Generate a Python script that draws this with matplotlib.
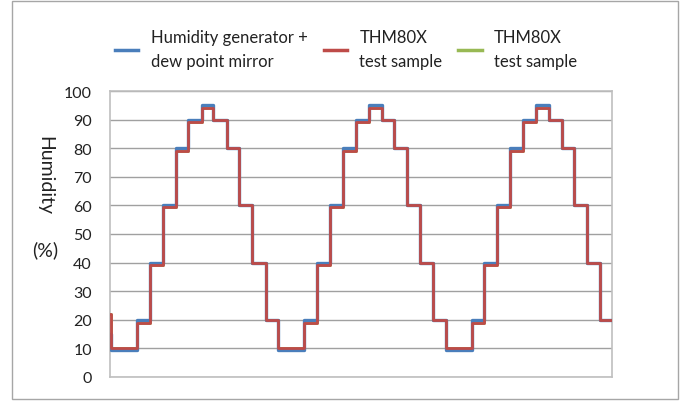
import matplotlib.pyplot as plt
from matplotlib.lines import Line2D
from matplotlib.patches import Rectangle

plt.rcParams['font.family'] = ['Lato', 'DejaVu Sans']

# Step change times (hours) and humidity levels
step_times = [0.0, 0.05, 2.15, 3.16, 4.2, 5.18, 6.17, 7.23, 8.15, 9.2, 10.2, 11.18,
              12.29, 13.28, 15.33, 16.36, 17.36, 18.37, 19.39, 20.44, 21.44, 22.41,
              23.46, 24.47, 25.47, 26.52, 28.55, 29.54, 30.57, 31.57, 32.57, 33.62,
              34.65, 35.65, 36.62, 37.67, 38.67, 39.62]
reference_rh = [15, 9.5, 20, 40, 60, 80, 90, 95, 90, 80, 60, 40, 20, 9.5,
                20, 40, 60, 80, 90, 95, 90, 80, 60, 40, 20, 9.5,
                20, 40, 60, 80, 90, 95, 90, 80, 60, 40, 20, 20]
sample1_rh = [22, 10, 19, 39, 59.5, 79, 89, 94, 90, 80, 60, 40, 20, 10,
              19, 39, 59.5, 79, 89, 94, 90, 80, 60, 40, 20, 10,
              19, 39, 59.5, 79, 89, 94, 90, 80, 60, 40, 20, 20]
sample2_rh = [22, 10, 19, 39, 59.5, 79, 89, 94, 90, 80, 60, 40, 20, 10,
              19, 39, 59.5, 79, 89, 94, 90, 80, 60, 40, 20, 10,
              19, 39, 59.5, 79, 89, 94, 90, 80, 60, 40, 20, 20]

labels = ['Humidity generator +\ndew point mirror', 'THM80X\ntest sample', 'THM80X\ntest sample']
colors = ['#4a7ebb', '#be4b48', '#98b954']

fig = plt.figure(figsize=(6.85, 4.10), dpi=100)
ax = fig.add_axes([110 / 685, 1 - 378 / 410, 502 / 685, 286 / 410])

ax.step(step_times, sample2_rh, where='post', color=colors[2], lw=2.0, zorder=2)
ax.step(step_times, reference_rh, where='post', color=colors[0], lw=2.4, zorder=3)
ax.step(step_times, sample1_rh, where='post', color=colors[1], lw=2.0, zorder=4)

ax.set_xlim(0, step_times[-1])
ax.set_ylim(0, 100)
ax.set_yticks(range(0, 101, 10))
ax.set_xticks([])
ax.tick_params(axis='y', length=0, pad=13, labelsize=11.5, labelcolor='#222222')
ax.grid(axis='y', color='#a0a0a0', lw=1)
ax.set_axisbelow(True)
for s in ax.spines.values():
    s.set_color('#bfbfbf')
    s.set_linewidth(1.2)

# y label: rotated word with upright unit below
fig.text(45 / 685, 1 - 176 / 410, 'Humidity', rotation=270, ha='center', va='center',
         fontsize=14, color='#222222')
fig.text(45 / 685, 1 - 250 / 410, '(%)', ha='center', va='center',
         fontsize=14, color='#222222')

handles = [Line2D([], [], color=c, lw=2.5) for c in colors]
fig.legend(handles, labels, loc='center left', bbox_to_anchor=(115 / 685, 1 - 50 / 410),
           ncol=3, frameon=False, fontsize=12, handlelength=1.4, handletextpad=0.75,
           columnspacing=0.95, labelspacing=0, borderpad=0, borderaxespad=0)
plt.setp(fig.legends[0].get_texts(), linespacing=1.55, color='#222222')

fig.add_artist(Rectangle((12 / 685, 1 - 400 / 410), 666 / 685, 398 / 410,
                         transform=fig.transFigure, fill=False, ec='#a6a6a6', lw=1))

fig.savefig('out.png', dpi=100)
